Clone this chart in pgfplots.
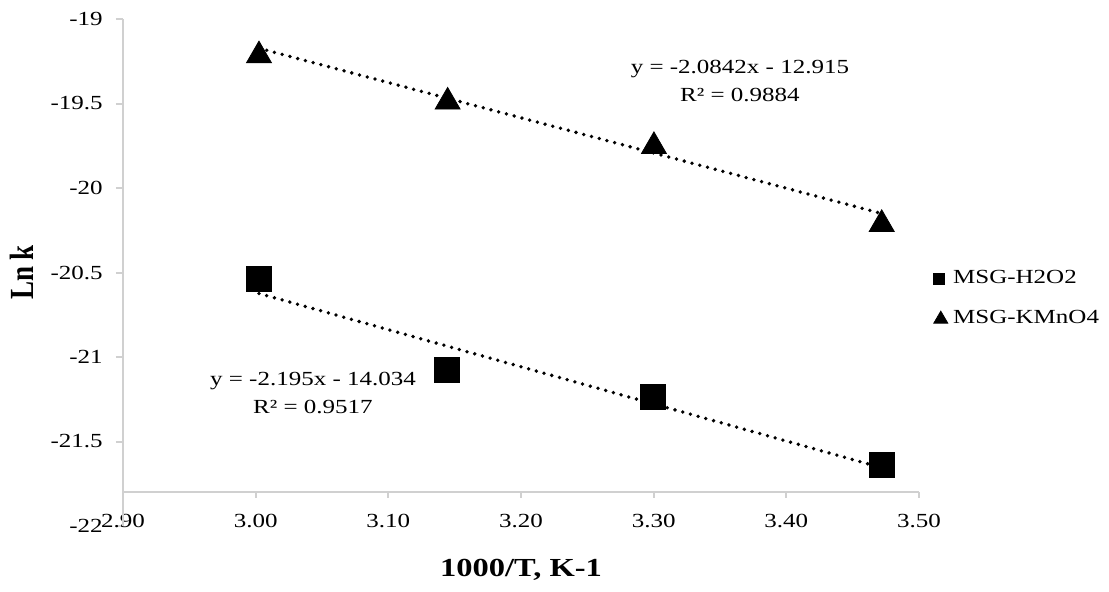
\documentclass[border=0pt]{standalone}
\usepackage{graphicx}
\usepackage{fontspec}
\setmainfont{Liberation Serif}
\newcommand\W[1]{\scalebox{1.25}[1]{#1}}
\usepackage{pgfplots}
\pgfplotsset{compat=1.18}
\definecolor{axgray}{RGB}{208,208,208}

\begin{document}
\begin{tikzpicture}
\begin{axis}[
  at={(0,0)}, anchor=south west,
  scale only axis, width=398pt, height=253.5pt,
  xmin=2.9, xmax=3.5, ymin=-22, ymax=-19,
  clip=false,
  axis line style={draw=none},
  xtick={2.9,3.0,3.1,3.2,3.3,3.4,3.5},
  ytick={-22,-21.5,-21,-20.5,-20,-19.5,-19},
  tick pos=left, tick align=outside,
  major tick length=3.5pt,
  xtick style={draw=none},
  ytick style={draw=axgray, line width=1pt},
  /pgf/number format/assume math mode=true,
  tick label style={font=\fontsize{10}{12}\selectfont},
  xticklabel={\W{\pgfmathprintnumber[fixed,fixed zerofill,precision=2]{\tick}}},
  yticklabel={\W{\pgfmathprintnumber{\tick}}},
  xticklabel style={anchor=center, yshift=6pt},
  yticklabel style={anchor=east, inner sep=0pt, xshift=-6.5pt},
  every axis x label/.style={at={(axis description cs:0.5,-0.0868)}, anchor=center, font=\bfseries\fontsize{13}{15}\selectfont},
  every axis y label/.style={at={(axis description cs:-0.1269,0.5)}, anchor=center, rotate=90},
  xlabel={\W{1000/T, K-1}},
  ylabel={\scalebox{1}[1.25]{\bfseries\fontsize{13.5}{15}\selectfont Ln\ k}},
  legend style={at={(axis description cs:1,0.449)}, anchor=west, xshift=7pt, draw=none, fill=none, inner sep=0pt, font=\fontsize{10}{12}\selectfont, row sep=11.5pt, column sep=2.5pt, nodes={inner sep=0pt}},
  legend cell align=left,
]
\draw[axgray, line width=1pt] (axis cs:2.9,-19) -- (axis cs:2.9,-22);
\draw[axgray, line width=1pt] (axis cs:2.9,-21.8) -- (axis cs:3.5,-21.8);
\pgfplotsinvokeforeach{2.9,3.0,3.1,3.2,3.3,3.4,3.5}{\draw[axgray, line width=1pt] (axis cs:#1,-21.8) -- ++(0pt,-3pt);}

\addplot[forget plot, only marks, mark=square*, mark size=6.25pt, black] coordinates {(3.0025,-20.540) (3.1440,-21.077) (3.2995,-21.235) (3.4719,-21.639)};
\addplot[forget plot, only marks, mark=triangle*, mark size=7.2pt, black, mark options={yshift=-1.8pt}] coordinates {(3.0025,-19.195) (3.1447,-19.469) (3.3002,-19.732) (3.4719,-20.193)};
\addplot[forget plot, black, line width=1.9pt, line cap=round, dash pattern=on 0pt off 4pt] coordinates {(3.0025,-20.624) (3.4719,-21.655)};
\addplot[forget plot, black, line width=1.9pt, line cap=round, dash pattern=on 0pt off 4pt] coordinates {(3.0025,-19.173) (3.4719,-20.151)};

\node[align=center, font=\fontsize{10}{14}\selectfont] at (axis cs:3.365,-19.367) {\W{y = -2.0842x - 12.915}\\\W{R² = 0.9884}};
\node[align=center, font=\fontsize{10}{14}\selectfont] at (axis cs:3.0432,-21.213) {\W{y = -2.195x - 14.034}\\\W{R² = 0.9517}};

\addlegendimage{legend image code/.code={\fill[black] (0pt,-2.75pt) rectangle (5.5pt,2.75pt);}}
\addlegendentry{\W{MSG-H2O2}}
\addlegendimage{legend image code/.code={\fill[black] (0pt,-2.6pt) -- (7pt,-2.6pt) -- (3.5pt,3.4pt) -- cycle;}}
\addlegendentry{\W{MSG-KMnO4}}
\end{axis}
\pgfresetboundingbox
\useasboundingbox (-61.5pt,-32.5pt) rectangle (493pt,263pt);
\end{tikzpicture}
\end{document}
